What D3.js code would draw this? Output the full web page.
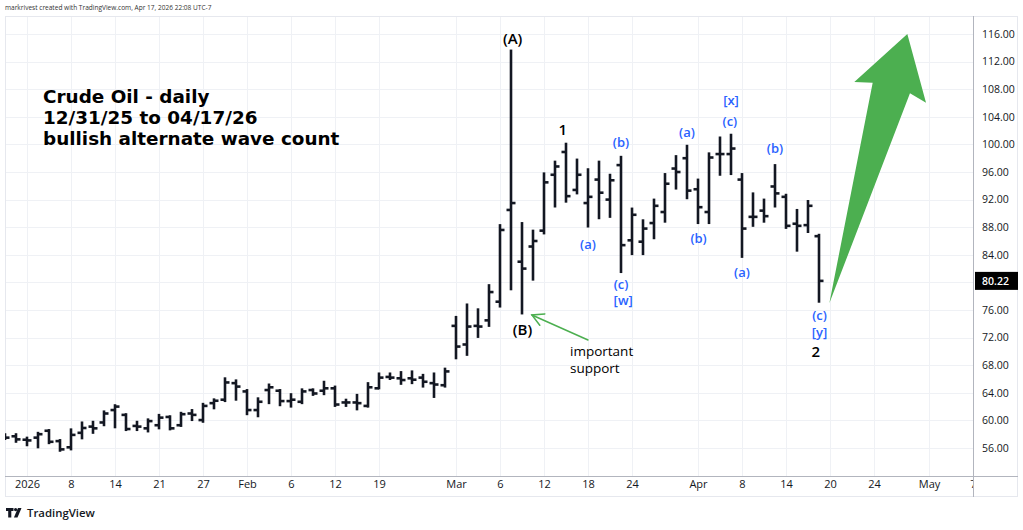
<!DOCTYPE html>
<html><head><meta charset="utf-8">
<script src="https://cdn.jsdelivr.net/npm/d3@7"></script>
<style>
body{margin:0;background:#fff;}
svg{display:block;font-family:"Open Sans","DejaVu Sans",sans-serif;}
</style>
</head><body>
<svg id="c" width="1023" height="530"></svg>
<script>
// ---- data ----
const barDates = ["2025-12-30","2025-12-31","2026-01-02","2026-01-05","2026-01-06","2026-01-07","2026-01-08","2026-01-09","2026-01-12","2026-01-13","2026-01-14","2026-01-15","2026-01-16","2026-01-20","2026-01-21","2026-01-22","2026-01-23","2026-01-26","2026-01-27","2026-01-28","2026-01-29","2026-01-30",
"2026-02-02","2026-02-03","2026-02-04","2026-02-05","2026-02-06","2026-02-09","2026-02-10","2026-02-11","2026-02-12","2026-02-13","2026-02-17","2026-02-18","2026-02-19","2026-02-20","2026-02-23","2026-02-24","2026-02-25","2026-02-26","2026-02-27",
"2026-03-02","2026-03-03","2026-03-04","2026-03-05","2026-03-06","2026-03-09","2026-03-10","2026-03-11","2026-03-12","2026-03-13","2026-03-16","2026-03-17","2026-03-18","2026-03-19","2026-03-20","2026-03-23","2026-03-24","2026-03-25","2026-03-26","2026-03-27","2026-03-30","2026-03-31",
"2026-04-01","2026-04-02","2026-04-06","2026-04-07","2026-04-08","2026-04-09","2026-04-10","2026-04-13","2026-04-14","2026-04-15","2026-04-16","2026-04-17"];
const futureDates = ["2026-04-20","2026-04-21","2026-04-22","2026-04-23","2026-04-24","2026-04-27","2026-04-28","2026-04-29","2026-04-30","2026-05-01","2026-05-04","2026-05-05","2026-05-06","2026-05-07"];
const openP  = [57.7,57.7,57.2,57.5,58.5,57.0,56.1,58.2,59.1,59.7,61.5,60.8,59.2,58.85,59.3,60.5,59.3,61.0,60.05,62.5,63.0,65.4,
64.2,61.5,64.4,64.3,62.8,62.7,64.4,64.3,64.65,62.6,62.6,62.1,64.65,66.3,66.1,66.1,66.2,65.4,65.1,
73.7,71.0,73.7,74.5,77.2,90.5,83.0,85.2,87.5,95.6,98.9,93.4,91.5,94.9,92.0,97.0,86.1,85.9,88.6,90.2,96.5,98.0,
93.5,90.2,98.6,98.6,94.9,89.5,90.4,93.9,92.4,88.5,88.3,86.7];
const highP  = [58.0,58.0,57.5,58.2,58.6,57.15,58.7,59.7,59.8,61.3,62.2,60.9,59.8,60.15,60.8,60.6,61.1,61.5,62.4,63.05,66.1,65.8,
64.4,63.2,65.2,64.4,63.8,64.5,64.5,65.6,64.9,63.0,63.7,65.4,66.8,66.8,67.0,67.1,66.6,66.8,67.5,
75.0,76.8,76.1,79.6,88.3,113.6,88.6,87.5,95.8,97.5,100.1,97.8,96.4,97.5,95.6,98.2,90.7,89.0,92.0,95.7,98.3,99.8,
94.9,98.7,101.0,101.4,95.7,92.9,92.0,97.0,92.7,90.5,91.8,86.9];
const lowP   = [57.3,56.9,56.4,56.1,56.7,55.6,55.8,57.4,58.2,59.3,59.0,58.6,58.6,58.4,58.85,58.7,59.2,60.05,59.8,61.75,62.8,63.0,
60.9,60.6,62.5,62.2,62.0,62.5,63.7,63.8,62.1,62.1,61.6,62.0,64.65,66.0,65.3,65.4,64.9,63.4,64.9,
69.0,69.5,72.1,73.7,76.5,79.0,75.5,80.4,87.1,91.0,91.7,92.9,88.1,89.3,89.5,81.5,84.1,84.1,86.4,88.8,93.6,92.2,
88.6,88.6,95.6,95.7,83.7,88.2,88.8,91.0,87.9,84.6,87.3,77.2];
const closeP = [57.5,57.25,57.1,58.0,56.9,55.8,57.9,58.9,58.85,61.0,62.0,58.75,59.1,59.9,60.4,58.85,60.9,60.8,62.1,62.85,65.5,64.9,
61.5,62.7,64.8,62.8,63.0,64.2,63.9,64.65,62.3,62.6,62.5,64.8,66.2,66.2,65.85,65.9,65.6,65.2,67.1,
70.7,73.6,73.6,78.6,87.6,91.5,82.0,86.0,94.5,96.8,92.5,95.6,92.4,93.0,94.8,85.4,89.8,87.8,91.1,94.3,96.0,93.3,
90.9,98.1,98.6,99.4,87.8,89.5,89.6,92.9,88.2,88.2,91.1,80.22];
const priceTicks = [56,60,64,68,72,76,80,84,88,92,96,100,104,108,112,116];
const dateTickDates  = ["2026-01-02","2026-01-08","2026-01-14","2026-01-21","2026-01-27","2026-02-02","2026-02-06","2026-02-12","2026-02-19","2026-03-02","2026-03-06","2026-03-12","2026-03-18","2026-03-24","2026-04-01","2026-04-08","2026-04-14","2026-04-20","2026-04-24","2026-05-01","2026-05-07"];
const dateTickLabels = ["2026","8","14","21","27","Feb","6","12","19","Mar","6","12","18","24","Apr","8","14","20","24","May","7"];
const lastPrice = 80.22;
const titleLines = ["Crude Oil - daily","12/31/25 to 04/17/26","bullish alternate wave count"];
// wave labels: [bar index position, price, text, colour]
const waveLabels = [
 [46.15,115.4,"(A)","k"],[50.7,102.3,"1","k"],[47.05,73.3,"(B)","k"],[73.7,70.0,"2","k"],
 [53.0,85.6,"(a)","b"],[56.0,100.4,"(b)","b"],[56.0,79.8,"(c)","b"],[56.2,77.4,"[w]","b"],
 [62.0,101.75,"(a)","b"],[63.05,86.4,"(b)","b"],[66.0,106.45,"[x]","b"],[65.9,103.45,"(c)","b"],
 [67.0,81.45,"(a)","b"],[70.0,99.55,"(b)","b"],[74.05,75.25,"(c)","b"],[74.05,72.8,"[y]","b"]
];
const supportText = ["important","support"];
const supportArrow = [[53.0,71.65],[47.9,75.28]];
const bigArrow = [[74.94,76.97],[78.88,108.94],[77.21,109.04],[82.03,116.0],[83.73,106.04],[82.27,107.41]];

// ---- layout ----
const svg = d3.select("#c");
const L=5, R=973, T=16, B=476, W=1018, BB=497;
const allDates = barDates.concat(futureDates);
const x = d3.scalePoint().domain(allDates).range([L, R]);
const xi = d3.scaleLinear().domain([0, allDates.length-1]).range([L, R]);
const y = d3.scaleLinear().domain([56,116]).range([448,34]);
const BLUE="#2962ff", GREEN="#4caf50", INK="#131722";

svg.append("rect").attr("width",1023).attr("height",530).attr("fill","#fff");
svg.append("defs").append("clipPath").attr("id","plot").append("rect")
  .attr("x",L).attr("y",T).attr("width",R-L).attr("height",B-T);
svg.select("defs").append("clipPath").attr("id","xax").append("rect")
  .attr("x",L).attr("y",B).attr("width",R-L).attr("height",BB-B);

// grid
const grid = svg.append("g").attr("clip-path","url(#plot)").attr("stroke","#eff1f5").attr("stroke-width",1);
grid.selectAll("line.h").data(priceTicks).join("line").attr("class","h")
  .attr("x1",L).attr("x2",R).attr("y1",d=>Math.round(y(d))+0.5).attr("y2",d=>Math.round(y(d))+0.5);
grid.selectAll("line.v").data(dateTickDates).join("line").attr("class","v")
  .attr("y1",T).attr("y2",B).attr("x1",d=>Math.round(x(d))+0.5).attr("x2",d=>Math.round(x(d))+0.5);

// frame
svg.append("rect").attr("x",L+0.5).attr("y",T+0.5).attr("width",W-L-1).attr("height",BB-T-1)
  .attr("fill","none").attr("stroke","#e6e8ee");

// bars
const bars = svg.append("g").attr("clip-path","url(#plot)").attr("stroke",INK).attr("stroke-width",2.6);
const idx = d3.range(barDates.length);
bars.selectAll("line.hl").data(idx).join("line")
  .attr("x1",i=>x(barDates[i])).attr("x2",i=>x(barDates[i]))
  .attr("y1",i=>y(highP[i])-1).attr("y2",i=>y(lowP[i])+1);
bars.selectAll("line.o").data(idx).join("line")
  .attr("x1",i=>x(barDates[i])-4.5).attr("x2",i=>x(barDates[i]))
  .attr("y1",i=>y(openP[i])).attr("y2",i=>y(openP[i]));
bars.selectAll("line.c").data(idx).join("line")
  .attr("x1",i=>x(barDates[i])).attr("x2",i=>x(barDates[i])+4.5)
  .attr("y1",i=>y(closeP[i])).attr("y2",i=>y(closeP[i]));

// title
const title = svg.append("g").attr("fill","#000").attr("font-weight","bold").attr("font-size",19)
  .attr("font-family","DejaVu Sans, sans-serif");
const tl = title.selectAll("text").data(titleLines).join("text")
  .attr("x",43).attr("y",(d,i)=>[96,117.5,138.5][i]).attr("dominant-baseline","central").text(d=>d);
const w3 = tl.nodes()[2].getComputedTextLength();
title.attr("font-size", Math.min(19, 19*296.6/w3));

// wave labels
svg.append("g").selectAll("text").data(waveLabels).join("text")
  .attr("x",d=>xi(d[0])).attr("y",d=>y(d[1])).attr("text-anchor","middle").attr("dominant-baseline","central")
  .attr("fill",d=>d[3]==="b"?BLUE:"#000").attr("font-size",d=>d[3]==="b"?13:15)
  .attr("font-weight",600).text(d=>d[2]);

// important support
svg.append("g").selectAll("text").data(supportText).join("text")
  .attr("x",570).attr("y",(d,i)=>y([70.05,67.65][i])).attr("dominant-baseline","central")
  .attr("font-size",13.5).attr("font-weight",500).attr("fill","#000").text(d=>d);
{
  const [a,b] = supportArrow;
  const x1=xi(a[0]), y1=y(a[1]), x2=xi(b[0]), y2=y(b[1]);
  const ang=Math.atan2(y1-y2,x1-x2), hl=13, sp=0.5;
  const g=svg.append("g").attr("stroke",GREEN).attr("stroke-width",1.5).attr("fill","none").attr("stroke-linecap","round");
  g.append("line").attr("x1",x1).attr("y1",y1).attr("x2",x2).attr("y2",y2);
  g.append("path").attr("d",`M${x2+hl*Math.cos(ang+sp)},${y2+hl*Math.sin(ang+sp)}L${x2},${y2}L${x2+hl*Math.cos(ang-sp)},${y2+hl*Math.sin(ang-sp)}`);
}
// big arrow
svg.append("path").attr("d", d3.line().x(d=>xi(d[0])).y(d=>y(d[1]))(bigArrow)+"Z").attr("fill",GREEN);

// right axis
svg.append("line").attr("x1",R+0.5).attr("x2",R+0.5).attr("y1",T).attr("y2",BB).attr("stroke","#b2b5be");
const ya = svg.append("g").attr("transform",`translate(${R},0)`)
  .call(d3.axisRight(y).tickValues(priceTicks).tickFormat(d3.format(".2f")).tickSize(0).tickPadding(9));
ya.select(".domain").remove();
ya.selectAll("text").attr("font-size",10.5).attr("fill",INK).attr("font-family","Open Sans, sans-serif");
// last price label
const lp = svg.append("g").attr("transform",`translate(${R+2},${y(lastPrice)})`);
lp.append("rect").attr("x",0).attr("y",-9).attr("width",43).attr("height",18).attr("fill","#000");
lp.append("text").attr("x",7).attr("y",0).attr("dominant-baseline","central").attr("fill","#fff")
  .attr("font-size",10.5).attr("font-weight",600).text(d3.format(".2f")(lastPrice));

// bottom axis
svg.append("line").attr("x1",L).attr("x2",W).attr("y1",B+0.5).attr("y2",B+0.5).attr("stroke","#b2b5be");
const xa = svg.append("g").attr("clip-path","url(#xax)").append("g").attr("transform",`translate(0,${B})`)
  .call(d3.axisBottom(x).tickValues(dateTickDates).tickFormat((d,i)=>dateTickLabels[i]).tickSize(0).tickPadding(4));
xa.select(".domain").remove();
xa.selectAll("text").attr("font-size",11).attr("fill",INK).attr("font-family","Open Sans, sans-serif");

// header
const hdr = svg.append("text").attr("x",5).attr("y",7).attr("dominant-baseline","central")
  .attr("font-size",9).attr("fill","#333").text("markrivest created with TradingView.com, Apr 17, 2026 22:08 UTC-7");
hdr.attr("font-size", 9*207/hdr.node().getComputedTextLength());

// footer logo
const lg = svg.append("g").attr("fill",INK);
lg.append("path").attr("d","M6,508h7.5v3h-2.2v6.5h-3.1v-6.5h-2.2z");
lg.append("circle").attr("cx",15.6).attr("cy",509.6).attr("r",1.6);
lg.append("path").attr("d","M18,508h3.5l-4,9.5h-3.6z");
const tv = svg.append("text").attr("x",27).attr("y",512.5).attr("dominant-baseline","central")
  .attr("font-size",14).attr("font-weight",600).attr("fill",INK).text("TradingView");
tv.attr("font-size", 14*68/tv.node().getComputedTextLength());
</script>
</body></html>
